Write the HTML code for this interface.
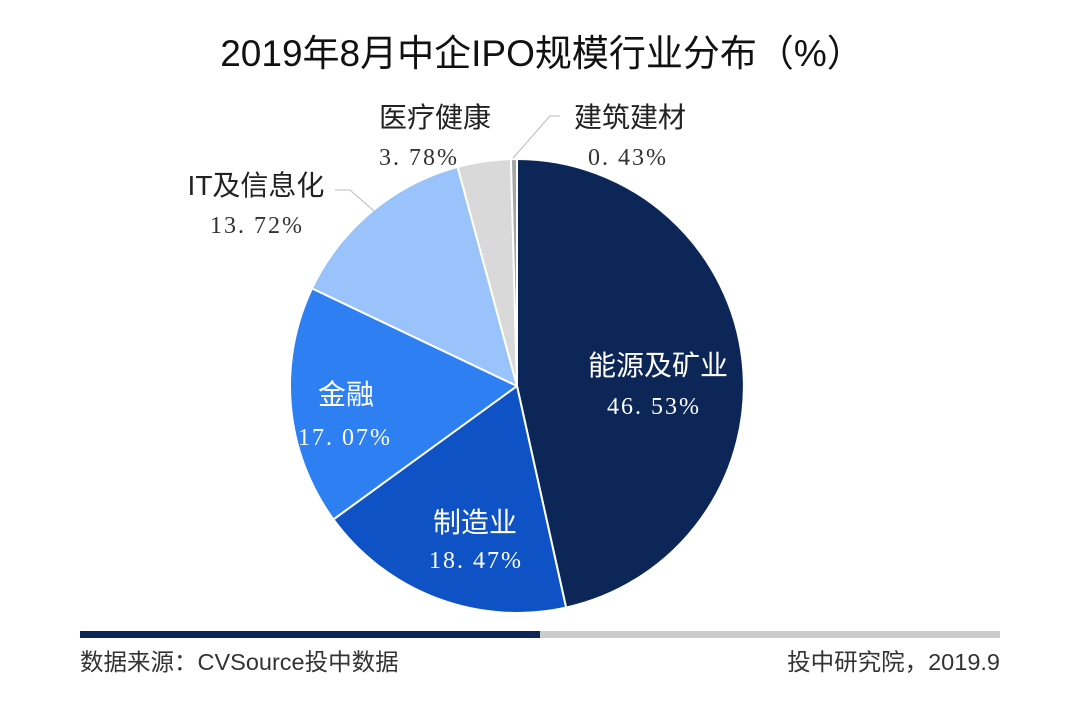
<!DOCTYPE html>
<html><head><meta charset="utf-8"><style>
body{margin:0;width:1080px;height:701px;background:#fff;overflow:hidden}
</style></head><body>
<svg width="1080" height="701" xmlns="http://www.w3.org/2000/svg">
<text x="542" y="66" text-anchor="middle" font-family="Liberation Sans,Noto Sans CJK SC,sans-serif" font-size="37" fill="#111">2019年8月中企IPO规模行业分布（%）</text>
<g stroke="#fff" stroke-width="2" stroke-linejoin="round">
<path d="M517,386 L517,159 A227,227 0 0 1 566.1,607.6 Z" fill="#0b2657"/>
<path d="M517,386 L566.1,607.6 A227,227 0 0 1 333.4,519.4 Z" fill="#0f52c6"/>
<path d="M517,386 L333.4,519.4 A227,227 0 0 1 312,288.4 Z" fill="#2e80f2"/>
<path d="M517,386 L312,288.4 A227,227 0 0 1 457.6,166.9 Z" fill="#99c3fa"/>
<path d="M517,386 L457.6,166.9 A227,227 0 0 1 510.9,159.1 Z" fill="#d9d9d9"/>
<path d="M517,386 L510.9,159.1 A227,227 0 0 1 517,159 Z" fill="#a6a6a6"/>
</g>
<polyline points="374,211 350,190 335,190" fill="none" stroke="#bbb" stroke-width="1"/>
<polyline points="513,158 550,116 560,116" fill="none" stroke="#bbb" stroke-width="1"/>
<g font-family="Liberation Sans,Noto Sans CJK SC,sans-serif" font-size="28">
<text x="658" y="375" text-anchor="middle" fill="#fff">能源及矿业</text>
<text x="475" y="532" text-anchor="middle" fill="#fff">制造业</text>
<text x="346" y="404" text-anchor="middle" fill="#fff">金融</text>
<text x="256" y="195" text-anchor="middle" fill="#222">IT及信息化</text>
<text x="435" y="127" text-anchor="middle" fill="#222">医疗健康</text>
<text x="630" y="127" text-anchor="middle" fill="#222">建筑建材</text>
</g>
<g font-family="Liberation Serif,Noto Serif CJK SC,serif" font-size="24" letter-spacing="2">
<text x="654" y="414" text-anchor="middle" fill="#fff">46. 53%</text>
<text x="476" y="568" text-anchor="middle" fill="#fff">18. 47%</text>
<text x="345" y="445" text-anchor="middle" fill="#fff">17. 07%</text>
<text x="257" y="233" text-anchor="middle" fill="#333">13. 72%</text>
<text x="419" y="165" text-anchor="middle" fill="#333">3. 78%</text>
<text x="628" y="165" text-anchor="middle" fill="#333">0. 43%</text>
</g>
<rect x="80" y="631" width="460" height="7" fill="#0b2657"/>
<rect x="540" y="631" width="460" height="7" fill="#cccccc"/>
<g font-family="Liberation Sans,Noto Sans CJK SC,sans-serif" font-size="23.5" fill="#333">
<text x="80" y="670">数据来源：CVSource投中数据</text>
<text x="1000" y="670" text-anchor="end">投中研究院，2019.9</text>
</g>
</svg>
</body></html>
